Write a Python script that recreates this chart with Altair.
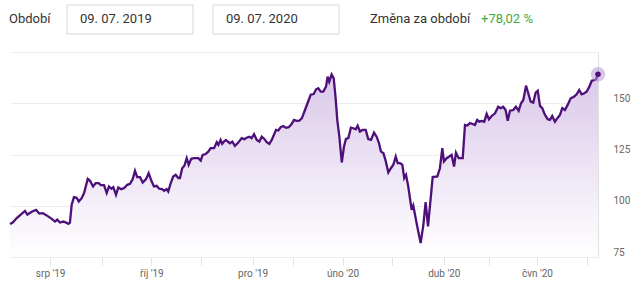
import altair as alt
import pandas as pd

# ---- data ----
start_date = "2019-07-09"
day_offsets = [
    0.0, 1.7, 4.2, 6.7, 9.3, 10.8, 13.5, 16.2, 18.2, 20.4, 22.8, 26.0, 28.0, 29.4, 31.1, 33.2,
    34.9, 36.3, 37.3, 38.4, 39.8, 41.5, 42.8, 44.6, 46.1, 48.4, 49.8, 51.7, 53.3, 55.2, 56.5,
    58.5, 60.2, 61.6, 63.1, 64.3, 66.0, 67.4, 69.3, 71.1, 73.0, 74.7, 76.4, 77.8, 79.2, 80.9,
    82.6, 84.7, 86.3, 88.2, 89.6, 91.3, 92.9, 94.6, 96.0, 97.5, 98.5, 100.0, 101.6, 103.1,
    104.8, 105.8, 107.2, 108.5, 110.0, 111.2, 112.8, 114.5, 117.2, 118.7, 119.9, 121.8, 123.4,
    124.9, 127.0, 128.7, 129.7, 131.1, 132.1, 133.2, 134.4, 135.7, 136.9, 138.4, 140.0, 142.1,
    144.2, 145.8, 147.3, 148.9, 150.4, 151.9, 153.6, 155.2, 156.7, 158.3, 159.8, 161.4, 162.9,
    164.3, 165.6, 167.0, 168.5, 170.1, 171.8, 173.5, 175.3, 176.8, 178.4, 180.1, 181.7, 183.6,
    185.7, 187.2, 189.0, 190.6, 191.9, 193.4, 195.0, 196.7, 197.7, 198.7, 200.2, 201.5, 202.7,
    203.7, 205.0, 206.5, 207.9, 209.1, 210.6, 212.2, 213.7, 215.2, 216.4, 217.8, 219.5, 221.4,
    223.0, 224.7, 226.6, 228.2, 229.7, 230.9, 232.4, 233.8, 235.5, 237.1, 238.6, 240.1, 241.3,
    242.7, 244.2, 245.4, 246.5, 247.9, 250.0, 251.0, 253.5, 255.6, 257.3, 258.7, 260.2, 263.1,
    266.0, 267.6, 269.1, 270.1, 271.8, 273.4, 274.9, 276.4, 277.6, 279.3, 281.8, 283.2, 284.6,
    286.3, 288.0, 289.4, 290.8, 292.1, 293.6, 295.2, 296.7, 298.1, 299.8, 301.9, 303.9, 305.4,
    307.0, 308.5, 309.8, 311.2, 313.3, 314.9, 316.6, 318.1, 319.5, 321.2, 322.6, 324.1, 325.7,
    327.2, 328.5, 329.9, 331.3, 333.0, 334.7, 336.1, 337.5, 339.2, 340.7, 342.3, 343.8, 345.4,
    347.1, 349.0, 351.0, 352.7, 354.3, 355.8, 357.5, 359.0, 360.6, 362.1, 363.5, 364.7, 366.0,
]
values = [
    91.1, 91.8, 94.0, 95.7, 97.5, 95.7, 97.1, 98.0, 96.2, 96.4, 95.3, 93.6, 92.3, 93.2, 91.8, 92.3,
    91.8, 91.2, 91.8, 100.5, 104.2, 103.9, 102.1, 103.7, 106.2, 113.1, 112.2, 109.4, 111.0, 111.0, 110.1,
    110.1, 106.2, 109.4, 108.3, 109.1, 105.3, 108.9, 108.1, 108.6, 110.2, 110.7, 113.0, 117.0, 114.0, 114.0,
    111.3, 113.0, 115.9, 111.8, 109.4, 109.7, 108.3, 108.1, 107.3, 108.1, 106.9, 110.9, 114.3, 115.1,
    113.5, 113.5, 118.3, 119.5, 123.2, 120.0, 122.9, 123.2, 123.2, 122.0, 124.8, 125.2, 126.4,
    128.1, 128.1, 131.0, 129.7, 132.1, 130.2, 131.3, 132.1, 131.2, 130.5, 131.3, 129.2, 130.8,
    133.0, 132.5, 133.2, 133.7, 133.0, 134.9, 132.1, 131.3, 133.7, 132.6, 131.0, 130.2, 132.1,
    134.6, 137.0, 136.7, 138.3, 138.9, 138.0, 138.3, 139.9, 141.9, 141.4, 141.5, 142.7, 146.7,
    151.1, 154.2, 154.5, 156.8, 157.3, 155.7, 155.7, 158.1, 163.0, 160.5, 164.1, 162.2, 152.4,
    141.9, 133.7, 121.1, 128.9, 132.6, 133.0, 138.1, 137.8, 137.3, 139.0, 136.2, 137.0, 137.0,
    132.5, 132.1, 135.7, 133.7, 130.5, 126.4, 125.7, 122.0, 116.2, 118.3, 120.0, 124.0, 120.8,
    120.8, 120.0, 113.5, 115.1, 109.4, 98.0, 100.1, 89.9, 81.8, 90.7, 101.8, 89.9, 114.0,
    114.3, 118.3, 128.1, 121.6, 123.2, 124.0, 124.8, 119.1, 125.9, 123.2, 123.2, 139.4, 139.1,
    140.3, 139.9, 139.4, 141.9, 141.0, 141.4, 141.0, 144.8, 142.2, 143.8, 145.1, 148.3, 147.6,
    148.3, 146.7, 141.5, 146.4, 146.7, 148.3, 146.3, 150.0, 151.6, 158.6, 154.9, 150.8, 150.3,
    155.2, 156.1, 148.7, 147.6, 144.3, 142.2, 141.9, 143.8, 141.0, 142.7, 144.3, 147.6, 146.7,
    149.2, 152.4, 153.2, 154.4, 156.5, 154.4, 154.9, 155.7, 158.1, 161.0, 161.3, 161.7, 164.1,
]
# month tick dates, on the same (trading-day stretched) time frame as the data
tick_dates = [
    (2019, 8, 3), (2019, 9, 4), (2019, 10, 5), (2019, 11, 5), (2019, 12, 7),
    (2020, 1, 1), (2020, 2, 1), (2020, 3, 3), (2020, 4, 4), (2020, 5, 2),
    (2020, 6, 1), (2020, 7, 2),
]
month_names = ["led", "úno", "bře", "dub", "kvě", "čvn", "čvc", "srp", "zář", "říj", "lis", "pro"]
y_ticks = [75, 100, 125, 150, 175]
y_min, y_max = 75, 175
period_label = "Období"
date_from = "09. 07. 2019"
date_to = "09. 07. 2020"
change_label = "Změna za období"
change_value = "+78,02 %"

df = pd.DataFrame({
    "date": pd.Timestamp(start_date) + pd.to_timedelta(day_offsets, unit="D"),
    "value": values,
})
last = df.tail(1)

LINE = "#4d0f7a"
FONT = "Roboto"

month_js = "[" + ",".join("'" + m + "'" for m in month_names) + "]"
label_expr = (
    "month(datum.value) % 2 == 1 ? " + month_js +
    "[month(datum.value)] + \" '\" + timeFormat(datum.value, '%y') : ''"
)

x_enc = alt.X(
    "date:T",
    scale=alt.Scale(domain=[alt.DateTime(year=2019, month=7, date=9),
                            alt.DateTime(year=2020, month=7, date=9)]),
    axis=alt.Axis(
        title=None, grid=False, domain=False,
        values=[alt.DateTime(year=y, month=m, date=d) for (y, m, d) in tick_dates],
        labelExpr=label_expr, labelFlush=False, labelOverlap=False,
        tickColor="#e3e3e3", tickSize=8, labelPadding=3,
        labelColor="#666666", labelFontSize=10, labelFont=FONT,
    ),
)
y_enc = alt.Y(
    "value:Q",
    scale=alt.Scale(domain=[y_min, y_max], zero=False, nice=False),
    axis=alt.Axis(
        orient="right", title=None, values=y_ticks,
        labelExpr="datum.value == 175 ? '' : datum.label",
        ticks=False, labelPadding=15, labelOffset=-5,
        domain=True, domainColor="#e0e0e0",
        gridColor="#ececec", labelColor="#666666", labelFontSize=10, labelFont=FONT,
        labelAlign="left",
    ),
)

gradient = alt.Gradient(
    gradient="linear", x1=0, x2=0, y1=0, y2=1,
    stops=[alt.GradientStop(color="#dac8e9", offset=0),
           alt.GradientStop(color="#ffffff", offset=1)],
)

base = alt.Chart(df)
area = base.mark_area(color=gradient, line=False).encode(x=x_enc, y=y_enc, y2=alt.datum(y_min))
line = base.mark_line(color=LINE, strokeWidth=2.3).encode(x="date:T", y="value:Q")
halo = alt.Chart(last).mark_point(filled=True, size=210, color="#b697d0", opacity=0.55).encode(
    x="date:T", y="value:Q")
dot = alt.Chart(last).mark_point(filled=True, size=30, color=LINE, opacity=1).encode(
    x="date:T", y="value:Q")

# ---- header UI ----
hdr = alt.Chart(pd.DataFrame({"k": [0]}))
box1 = hdr.mark_rect(fill="white", stroke="#d6d6d6", strokeWidth=1).encode(
    x=alt.value(57), x2=alt.value(183), y=alt.value(-47), y2=alt.value(-18))
box2 = hdr.mark_rect(fill="white", stroke="#d6d6d6", strokeWidth=1).encode(
    x=alt.value(203), x2=alt.value(329), y=alt.value(-47), y2=alt.value(-18))

def txt(s, xpos, color="#333333", weight="normal"):
    return hdr.mark_text(align="left", baseline="middle", font=FONT, fontSize=13,
                         color=color, fontWeight=weight).encode(
        x=alt.value(xpos), y=alt.value(-33), text=alt.value(s))

header = (box1 + box2 + txt(period_label, -1) + txt(date_from, 70) + txt(date_to, 216)
          + txt(change_label, 360) + txt(change_value, 471, color="#43a843"))

chart = alt.layer(area, line, halo, dot, header).properties(
    width=588, height=205,
    autosize=alt.AutoSizeParams(type="none"),
    padding={"left": 10, "top": 52, "right": 42, "bottom": 28},
).configure_view(stroke=None)

chart.save("out.html", embed_options={"renderer": "svg", "actions": False})
